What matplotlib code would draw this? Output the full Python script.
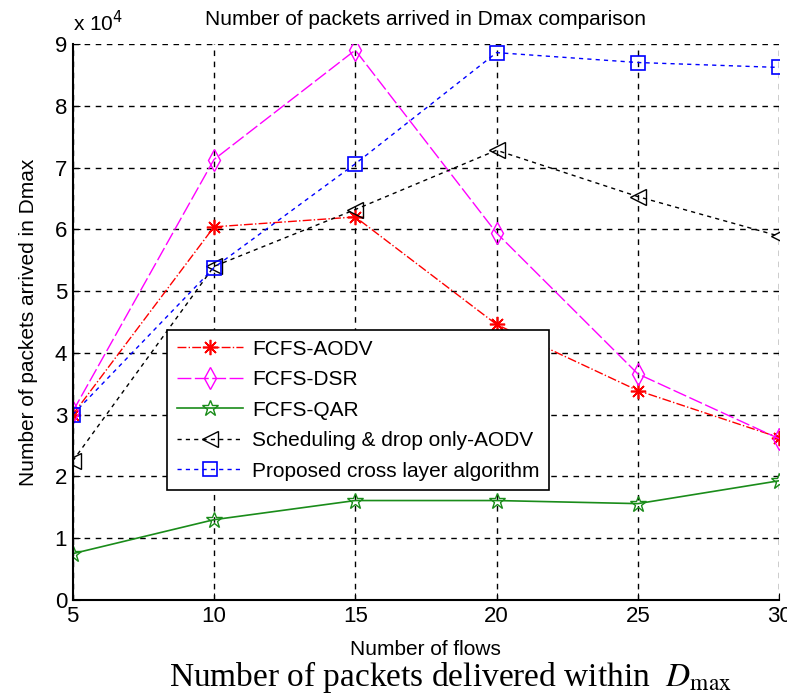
import matplotlib
matplotlib.use("Agg")
import matplotlib.pyplot as plt
from matplotlib.ticker import FuncFormatter, MultipleLocator

plt.rcParams['font.family'] = ['Liberation Sans', 'DejaVu Sans']

flows = [5, 10, 15, 20, 25, 30]
fcfs_aodv = [30000, 60400, 62000, 44600, 33900, 26300]
fcfs_dsr = [30500, 71300, 89000, 59400, 36600, 26100]
fcfs_qar = [7500, 13000, 16100, 16100, 15600, 19300]
sched_drop_aodv = [22500, 54000, 63200, 72800, 65300, 58900]
cross_layer = [30000, 53800, 70600, 88600, 87000, 86200]

series_labels = ["FCFS-AODV", "FCFS-DSR", "FCFS-QAR",
                 "Scheduling & drop only-AODV", "Proposed cross layer algorithm"]

fig = plt.figure(figsize=(7.87, 6.98), dpi=100)
ax = fig.add_axes([0.0924, 0.1404, 0.8976, 0.7966])

# asterisk marker with 8 arms, as in the classic '*' plot symbol
asterisk = (8, 2, 0)

ax.plot(flows, fcfs_aodv, color='red', linestyle='-.', marker=asterisk, markersize=11,
        markeredgewidth=1.2, linewidth=1, label=series_labels[0])
ax.plot(flows, fcfs_dsr, color='magenta', linestyle=(0, (10, 2.5)), marker='d', markersize=11,
        markerfacecolor='none', markeredgewidth=1, linewidth=1, label=series_labels[1])
ax.plot(flows, fcfs_qar, color='#1a8c1a', linestyle='-', marker='*', markersize=12,
        markerfacecolor='none', markeredgewidth=1, linewidth=1.2, label=series_labels[2])
ax.plot(flows, sched_drop_aodv, color='black', linestyle=(0, (3, 3)), marker='<', markersize=11,
        markerfacecolor='none', markeredgewidth=1, linewidth=1, label=series_labels[3])
ax.plot(flows, cross_layer, color='blue', linestyle=(0, (3, 3)), marker='s', markersize=10,
        markerfacecolor='none', markeredgewidth=1.2, linewidth=1, label=series_labels[4])

ax.set_xlim(5, 30)
ax.set_ylim(0, 90000)
ax.xaxis.set_major_locator(MultipleLocator(5))
ax.yaxis.set_major_locator(MultipleLocator(10000))
ax.yaxis.set_major_formatter(FuncFormatter(lambda v, p: f"{v/1e4:g}"))

ax.grid(True, color='black', linestyle=(0, (4, 4)), linewidth=1)
ax.set_axisbelow(True)
for side in ('top', 'right'):
    ax.spines[side].set_visible(False)
for side in ('left', 'bottom'):
    ax.spines[side].set_linewidth(1.5)
ax.tick_params(direction='in', length=5, labelsize=16, pad=4)

ax.set_title("Number of packets arrived in Dmax comparison", fontsize=15, pad=14)
ax.set_xlabel("Number of flows", fontsize=15, labelpad=10)
ax.set_ylabel("Number of packets arrived in Dmax", fontsize=15, labelpad=12)
ax.text(0.0, 1.015, r"x 10$^4$", transform=ax.transAxes, fontsize=15, ha='left', va='bottom')

leg = ax.legend(loc='lower left', bbox_to_anchor=(0.134, 0.198), fontsize=15,
                frameon=True, fancybox=False, edgecolor='black', framealpha=1,
                handlelength=3.2, borderpad=0.45, labelspacing=0.55, handletextpad=0.4,
                borderaxespad=0)
leg.get_frame().set_linewidth(1.2)

fig.text(0.572, 0.017, r"Number of packets delivered within  $D_{\mathrm{max}}$",
         fontsize=24, ha='center', va='baseline', family='Liberation Serif',
         math_fontfamily='stix')

fig.savefig("out.png", dpi=100)
